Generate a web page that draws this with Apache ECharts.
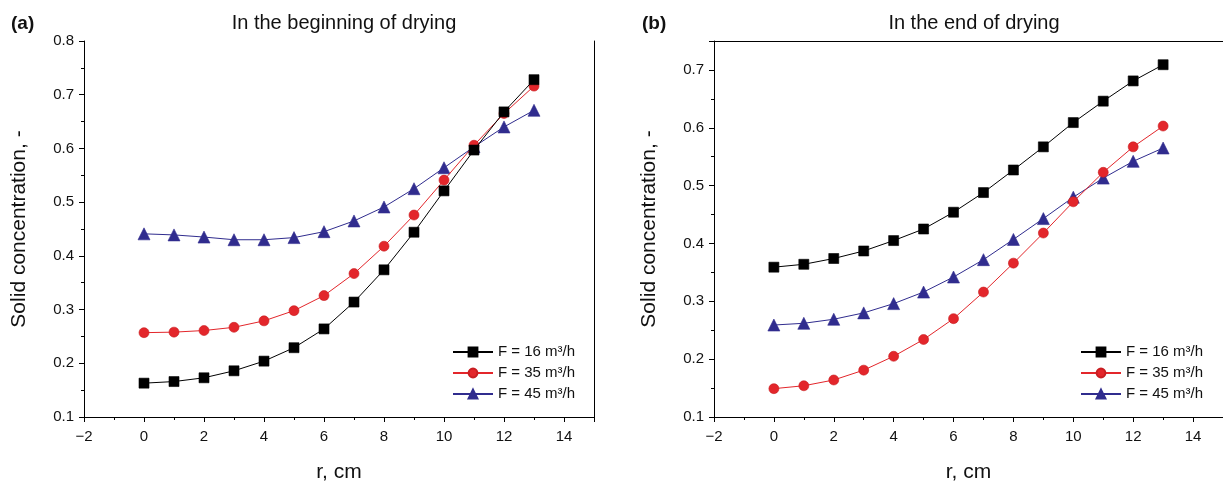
<!DOCTYPE html>
<html>
<head>
<meta charset="utf-8">
<script src="https://cdn.jsdelivr.net/npm/echarts@6/dist/echarts.min.js"></script>
<style>
html,body{margin:0;padding:0;background:#fff;}
#chart{width:1223px;height:488px;}
</style>
</head>
<body>
<div id="chart"></div>
<script>
// r positions (cm)
const radius = [0, 1, 2, 3, 4, 5, 6, 7, 8, 9, 10, 11, 12, 13];
const seriesNames = ['F = 16 m³/h', 'F = 35 m³/h', 'F = 45 m³/h'];

// (a) In the beginning of drying
const begin16 = [0.163, 0.166, 0.173, 0.186, 0.204, 0.229, 0.264, 0.314, 0.374, 0.444, 0.521, 0.597, 0.668, 0.728];
const begin35 = [0.257, 0.258, 0.261, 0.267, 0.279, 0.298, 0.326, 0.367, 0.418, 0.476, 0.541, 0.606, 0.665, 0.716];
const begin45 = [0.441, 0.439, 0.435, 0.430, 0.430, 0.434, 0.445, 0.465, 0.491, 0.525, 0.564, 0.603, 0.640, 0.671];

// (b) In the end of drying
const end16 = [0.359, 0.364, 0.374, 0.387, 0.405, 0.425, 0.454, 0.488, 0.527, 0.567, 0.609, 0.646, 0.681, 0.709];
const end35 = [0.149, 0.154, 0.164, 0.181, 0.205, 0.234, 0.270, 0.316, 0.366, 0.418, 0.472, 0.523, 0.567, 0.603];
const end45 = [0.259, 0.262, 0.269, 0.280, 0.296, 0.316, 0.342, 0.372, 0.407, 0.443, 0.480, 0.513, 0.542, 0.565];

const titles = ['In the beginning of drying', 'In the end of drying'];
const panelLabels = ['(a)', '(b)'];
const xTitle = 'r, cm';
const yTitle = 'Solid concentration, -';

const colors = ['#000000', '#e3262b', '#302c8e'];
const symbols = ['rect', 'circle', 'triangle'];
const symbolSizes = [10, 10, 12];

const FONT = '"Liberation Sans", Arial, sans-serif';
const chart = echarts.init(document.getElementById('chart'), null, {renderer: 'canvas'});

const pair = (ys) => radius.map((x, i) => [x, ys[i]]);
const minus = (v) => String(v).replace('-', '\u2212');

function xAxis(gridIndex) {
  return {
    type: 'value', gridIndex, min: -2, max: 15, interval: 2,
    name: xTitle, nameLocation: 'middle', nameGap: 45,
    nameTextStyle: {fontFamily: FONT, fontSize: 21, color: '#111'},
    axisLine: {show: true, onZero: false, lineStyle: {color: '#000', width: 1}},
    axisTick: {show: true, inside: false, length: 5, lineStyle: {color: '#000'}},
    minorTick: {show: true, splitNumber: 2, length: 3, lineStyle: {color: '#000'}},
    splitLine: {show: false},
    axisLabel: {fontFamily: FONT, fontSize: 15, color: '#111', margin: 12, showMaxLabel: false, formatter: minus}
  };
}
function yAxis(gridIndex, min, max) {
  return {
    type: 'value', gridIndex, min, max, interval: 0.1,
    name: yTitle, nameLocation: 'middle', nameGap: 54, nameRotate: 90,
    nameTextStyle: {fontFamily: FONT, fontSize: 21, color: '#111'},
    axisLine: {show: true, onZero: false, lineStyle: {color: '#000', width: 1}},
    axisTick: {show: true, inside: false, length: 5, lineStyle: {color: '#000'}},
    minorTick: {show: true, splitNumber: 2, length: 3, lineStyle: {color: '#000'}},
    splitLine: {show: false},
    axisLabel: {fontFamily: FONT, fontSize: 15, color: '#111', margin: 10, showMaxLabel: max === 0.8,
      formatter: (v) => v.toFixed(1)}
  };
}
function borderX(gridIndex) { // top border line
  return {type: 'value', gridIndex, position: 'top', min: -2, max: 15,
    axisLine: {show: true, onZero: false, lineStyle: {color: '#000', width: 1}},
    axisTick: {show: false}, axisLabel: {show: false}, splitLine: {show: false}};
}
function borderY(gridIndex, min, max) { // right border line
  return {type: 'value', gridIndex, position: 'right', min, max,
    axisLine: {show: true, onZero: false, lineStyle: {color: '#000', width: 1}},
    axisTick: {show: false}, axisLabel: {show: false}, splitLine: {show: false}};
}

function makeSeries(datas, xi, yi) {
  return datas.map((d, k) => ({
    type: 'line', name: seriesNames[k], xAxisIndex: xi, yAxisIndex: yi,
    data: pair(d), symbol: symbols[k], symbolSize: symbolSizes[k], showSymbol: true,
    lineStyle: {color: colors[k], width: 1},
    itemStyle: {color: colors[k], borderColor: k === 1 ? '#c81e22' : colors[k], borderWidth: 0.6},
    z: 10 - k, animation: false
  }));
}

const legendBase = {
  orient: 'vertical', itemWidth: 40, itemHeight: 11, itemGap: 5, padding: 0,
  textStyle: {fontFamily: FONT, fontSize: 15, color: '#111', lineHeight: 16},
  data: seriesNames, selectedMode: false
};

const option = {
  backgroundColor: '#ffffff',
  animation: false,
  title: [
    {text: titles[0], left: 339, top: 8, textAlign: 'center',
      textStyle: {fontFamily: FONT, fontSize: 20, fontWeight: 'normal', color: '#111'}},
    {text: titles[1], left: 969, top: 8, textAlign: 'center',
      textStyle: {fontFamily: FONT, fontSize: 20, fontWeight: 'normal', color: '#111'}},
    {text: panelLabels[0], left: 6, top: 9,
      textStyle: {fontFamily: FONT, fontSize: 19, fontWeight: 'bold', color: '#111'}},
    {text: panelLabels[1], left: 637, top: 9,
      textStyle: {fontFamily: FONT, fontSize: 19, fontWeight: 'bold', color: '#111'}}
  ],
  grid: [
    {left: 84, top: 41, width: 510, height: 377},
    {left: 714, top: 41, width: 510, height: 377}
  ],
  xAxis: [xAxis(0), xAxis(1), borderX(1)],
  yAxis: [yAxis(0, 0.1, 0.8), yAxis(1, 0.1, 0.75), borderY(0, 0.1, 0.8)],
  legend: [
    Object.assign({left: 452, top: 344}, legendBase),
    Object.assign({left: 1080, top: 344}, legendBase)
  ],
  series: [
    ...makeSeries([begin16, begin35, begin45], 0, 0),
    ...makeSeries([end16, end35, end45], 1, 1)
  ]
};
chart.setOption(option);
</script>
</body>
</html>
